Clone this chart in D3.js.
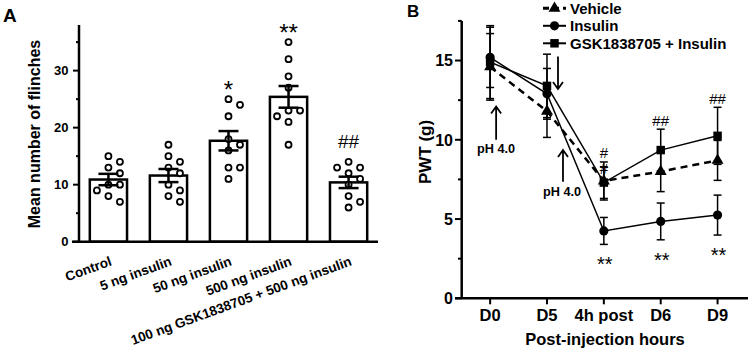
<!DOCTYPE html>
<html lang="en">
<head>
<meta charset="UTF-8">
<title>Flinches and PWT</title>
<script src="https://d3js.org/d3.v7.min.js"></script>
<style>
    body { margin: 0; background: #fff; }
    svg { display: block; font-family: "Liberation Sans", Arial, sans-serif; }
    .bold { font-weight: bold; }
</style>
</head>
<body>
<svg id="chart" width="749" height="350"></svg>
<script>
// ---- Panel A data ----
const groupsA = ["Control", "5 ng insulin", "50 ng insulin", "500 ng insulin",
                 "100 ng GSK1838705 + 500 ng insulin"];
const meanA = [10.9, 11.6, 17.7, 25.4, 10.4];
const semA = [1.0, 1.15, 1.7, 1.9, 1.0];
const dotsA = [
    [15, 14, 13, 12, 10, 10, 9, 8, 7],
    [17, 15, 14, 13, 12, 10, 9, 8, 7],
    [25, 24, 22, 18, 17, 16, 13, 13, 11],
    [35, 32, 29, 27, 23, 23, 22, 21, 17],
    [14, 13, 13, 12, 11, 10, 8, 7, 6]
];
const sigA = ["", "", "*", "**", "##"];
const yTicksA = [0, 10, 20, 30];
const yMinorA = [5, 15, 25, 35];

// ---- Panel B data ----
const timesB = ["D0", "D5", "4h post", "D6", "D9"];
const vehicleMean = [14.6, 11.8, 7.4, 8.0, 8.7];
const vehicleSd = [2.1, 1.65, 1.2, 1.27, 1.26];
const insulinMean = [15.2, 12.9, 4.25, 4.85, 5.25];
const insulinSd = [1.9, 1.6, 0.85, 1.16, 1.26];
const gskMean = [14.9, 13.4, 7.3, 9.35, 10.25];
const gskSd = [2.3, 2.0, 1.0, 1.32, 1.8];
const yTicksB = [0, 5, 10, 15];
const yMinorB = [2.5, 7.5, 12.5, 17.5];
const hashB = [
    { time: "4h post", series: "Vehicle", text: "#" },
    { time: "4h post", series: "GSK1838705 + Insulin", text: "#" },
    { time: "D6", series: "GSK1838705 + Insulin", text: "##" },
    { time: "D9", series: "GSK1838705 + Insulin", text: "##" }
];
const starTimesB = ["4h post", "D6", "D9"];

const svg = d3.select("#chart");

// ================= Panel A =================
const xA = d3.scaleBand().domain(groupsA).range([79, 378]).paddingInner(0.38).paddingOuter(0.18);
const yA = d3.scaleLinear().domain([0, 38]).range([241.7, 25]);
const gA = svg.append("g");

gA.append("text").attr("class", "bold").attr("x", 3).attr("y", 21.7)
    .attr("font-size", 19).text("A");

// bars
gA.selectAll("rect.bar").data(groupsA).join("rect")
    .attr("x", d => xA(d))
    .attr("y", (d, i) => yA(meanA[i]))
    .attr("width", xA.bandwidth())
    .attr("height", (d, i) => yA(0) - yA(meanA[i]))
    .attr("fill", "#fff").attr("stroke", "#000").attr("stroke-width", 2.5);

// simple beeswarm so the dots do not overlap
function swarm(vals, cx) {
    const placed = [];
    vals.forEach(v => {
        const y = yA(v);
        for (const k of [0, 1, -1, 2, -2]) {
            const x = cx + k * 11.5;
            if (placed.every(p => Math.hypot(p.x - x, p.y - y) >= 8.5)) {
                placed.push({ x, y });
                break;
            }
        }
    });
    return placed;
}
groupsA.forEach((g, i) => {
    const cx = xA(g) + xA.bandwidth() / 2;
    gA.selectAll(null).data(swarm(dotsA[i], cx)).join("circle")
        .attr("cx", d => d.x).attr("cy", d => d.y).attr("r", 3)
        .attr("fill", "#fff").attr("stroke", "#000").attr("stroke-width", 1.8);

    const top = yA(meanA[i] + semA[i]), bot = yA(meanA[i] - semA[i]);
    const eb = gA.append("g").attr("stroke", "#000").attr("stroke-width", 2.5);
    eb.append("line").attr("x1", cx).attr("x2", cx).attr("y1", top).attr("y2", bot);
    eb.append("line").attr("x1", cx - 10).attr("x2", cx + 10).attr("y1", top).attr("y2", top);
    eb.append("line").attr("x1", cx - 10).attr("x2", cx + 10).attr("y1", bot).attr("y2", bot);

    if (sigA[i]) {
        const isStar = sigA[i].includes("*");
        gA.append("text").attr("x", cx).attr("text-anchor", "middle")
            .attr("y", yA(d3.max(dotsA[i])) + (isStar ? -1.3 : -13.8))
            .attr("font-size", isStar ? 24 : 19).text(sigA[i]);
    }
});

// axes A
gA.append("line").attr("x1", 79).attr("x2", 79).attr("y1", yA(38)).attr("y2", yA(0))
    .attr("stroke", "#000").attr("stroke-width", 2.5);
gA.append("line").attr("x1", 72).attr("x2", 378).attr("y1", yA(0)).attr("y2", yA(0))
    .attr("stroke", "#000").attr("stroke-width", 2.5);
gA.selectAll("line.tk").data(yTicksA).join("line")
    .attr("x1", 73).attr("x2", 79).attr("y1", d => yA(d)).attr("y2", d => yA(d))
    .attr("stroke", "#000").attr("stroke-width", 2);
gA.selectAll("line.mtk").data(yMinorA).join("line")
    .attr("x1", 76).attr("x2", 79).attr("y1", d => yA(d)).attr("y2", d => yA(d))
    .attr("stroke", "#000").attr("stroke-width", 2);
gA.selectAll("text.tl").data(yTicksA).join("text")
    .attr("class", "bold").attr("x", 68.5).attr("y", d => yA(d)).attr("dy", "0.36em")
    .attr("text-anchor", "end").attr("font-size", 13).text(d => d);
gA.selectAll("text.xl").data(groupsA).join("text")
    .attr("class", "bold").attr("text-anchor", "end").attr("font-size", 13.5)
    .attr("transform", d => `translate(${xA(d) + xA.bandwidth() / 2 + 4},265) rotate(-20)`)
    .text(d => d);
gA.append("text").attr("class", "bold").attr("font-size", 16).attr("text-anchor", "middle")
    .attr("transform", "translate(39.5,134) rotate(-90)").text("Mean number of flinches");

// ================= Panel B =================
const xB = d3.scalePoint().domain(timesB).range([461.7, 746]).padding(0.5);
const yB = d3.scaleLinear().domain([0, 17.5]).range([298.3, 20.9]);
const gB = svg.append("g");

gB.append("text").attr("class", "bold").attr("x", 407).attr("y", 16.7)
    .attr("font-size", 17).text("B");

const seriesB = [
    { name: "Vehicle", mean: vehicleMean, sd: vehicleSd, shape: d3.symbolTriangle, size: 62, dash: "7,5", width: 2.5 },
    { name: "Insulin", mean: insulinMean, sd: insulinSd, shape: d3.symbolCircle, size: 66, dash: null, width: 1.5 },
    { name: "GSK1838705 + Insulin", mean: gskMean, sd: gskSd, shape: d3.symbolSquare, size: 72, dash: null, width: 1.5 }
];

// error bars
seriesB.forEach(s => {
    timesB.forEach((t, i) => {
        const cx = xB(t), top = yB(s.mean[i] + s.sd[i]), bot = yB(s.mean[i] - s.sd[i]);
        const eb = gB.append("g").attr("stroke", "#000").attr("stroke-width", 1.5);
        eb.append("line").attr("x1", cx).attr("x2", cx).attr("y1", top).attr("y2", bot);
        eb.append("line").attr("x1", cx - 4).attr("x2", cx + 4).attr("y1", top).attr("y2", top);
        eb.append("line").attr("x1", cx - 4).attr("x2", cx + 4).attr("y1", bot).attr("y2", bot);
    });
});

// lines + markers
const lineB = d3.line().x((d, i) => xB(timesB[i])).y(d => yB(d));
seriesB.forEach(s => {
    gB.append("path").attr("d", lineB(s.mean)).attr("fill", "none")
        .attr("stroke", "#000").attr("stroke-width", s.width)
        .attr("stroke-dasharray", s.dash);
    gB.selectAll(null).data(s.mean).join("path")
        .attr("d", d3.symbol().type(s.shape).size(s.size))
        .attr("transform", (d, i) => `translate(${xB(timesB[i])},${yB(d)})`)
        .attr("fill", "#000");
});

// significance marks
const markCount = {};
hashB.forEach(h => {
    const s = seriesB.find(d => d.name === h.series);
    const i = timesB.indexOf(h.time);
    const k = markCount[h.time] || 0;
    markCount[h.time] = k + 1;
    const first = hashB.find(d => d.time === h.time);
    const fs = seriesB.find(d => d.name === first.series);
    const base = yB(fs.mean[i] + fs.sd[i]) - 3.5 + k * 16;
    gB.append("text").attr("x", xB(h.time)).attr("y", base).attr("text-anchor", "middle")
        .attr("font-size", 15).text(h.text);
});
starTimesB.forEach(t => {
    const i = timesB.indexOf(t);
    gB.append("text").attr("x", xB(t) + 1).attr("y", yB(insulinMean[i] - insulinSd[i]) + 27)
        .attr("text-anchor", "middle").attr("font-size", 20).text("**");
});

// arrows
function arrow(x, y1, y2) {
    const dir = y2 < y1 ? 1 : -1;
    gB.append("path")
        .attr("d", `M${x},${y1}L${x},${y2}M${x - 5},${y2 + 7 * dir}L${x},${y2}L${x + 5},${y2 + 7 * dir}`)
        .attr("fill", "none").attr("stroke", "#000").attr("stroke-width", 1.8);
}
arrow(xB("D0") + 6, yB(10.0), yB(12.1));
gB.append("text").attr("class", "bold").attr("x", xB("D0") + 6).attr("y", 153)
    .attr("text-anchor", "middle").attr("font-size", 12.7).text("pH 4.0");
arrow(xB("D5") + 16, yB(7.35), yB(9.35));
gB.append("text").attr("class", "bold").attr("x", xB("D5") + 15).attr("y", 196)
    .attr("text-anchor", "middle").attr("font-size", 12.7).text("pH 4.0");
arrow(xB("D5") + 11, yB(15.25), yB(13.2));

// axes B
gB.append("line").attr("x1", 461.7).attr("x2", 461.7).attr("y1", yB(17.5)).attr("y2", yB(0))
    .attr("stroke", "#000").attr("stroke-width", 2.5);
gB.append("line").attr("x1", 455).attr("x2", 748).attr("y1", yB(0)).attr("y2", yB(0))
    .attr("stroke", "#000").attr("stroke-width", 2.5);
gB.selectAll("line.tk").data(yTicksB).join("line")
    .attr("x1", 455).attr("x2", 461.7).attr("y1", d => yB(d)).attr("y2", d => yB(d))
    .attr("stroke", "#000").attr("stroke-width", 2);
gB.selectAll("line.mtk").data(yMinorB).join("line")
    .attr("x1", 458).attr("x2", 461.7).attr("y1", d => yB(d)).attr("y2", d => yB(d))
    .attr("stroke", "#000").attr("stroke-width", 2);
gB.selectAll("text.tl").data(yTicksB).join("text")
    .attr("class", "bold").attr("x", 453).attr("y", d => yB(d)).attr("dy", "0.36em")
    .attr("text-anchor", "end").attr("font-size", 16).text(d => d);
gB.selectAll("line.xt").data(timesB).join("line")
    .attr("x1", d => xB(d)).attr("x2", d => xB(d)).attr("y1", yB(0)).attr("y2", yB(0) + 6)
    .attr("stroke", "#000").attr("stroke-width", 2);
gB.selectAll("text.xl").data(timesB).join("text")
    .attr("class", "bold").attr("x", d => xB(d)).attr("y", 321)
    .attr("text-anchor", "middle").attr("font-size", 16.5).text(d => d);
gB.append("text").attr("class", "bold").attr("x", 605).attr("y", 345)
    .attr("text-anchor", "middle").attr("font-size", 16.5).text("Post-injection hours");
gB.append("text").attr("class", "bold").attr("font-size", 17).attr("text-anchor", "middle")
    .attr("transform", "translate(430.5,152) rotate(-90)").text("PWT (g)");

// legend
const leg = gB.selectAll("g.leg").data(seriesB).join("g")
    .attr("transform", (d, i) => `translate(543,${8.3 + i * 17.5})`);
leg.append("line").attr("x1", 0).attr("x2", 23).attr("y1", 0).attr("y2", 0)
    .attr("stroke", "#000").attr("stroke-width", d => d.width + 0.5)
    .attr("stroke-dasharray", d => d.dash ? "6,4" : null);
leg.append("path").attr("d", d => d3.symbol().type(d.shape).size(d.size)())
    .attr("transform", "translate(11.5,0)").attr("fill", "#000");
leg.append("text").attr("class", "bold").attr("x", 27).attr("y", 5.3)
    .attr("font-size", 15).text(d => d.name);
</script>
</body>
</html>
